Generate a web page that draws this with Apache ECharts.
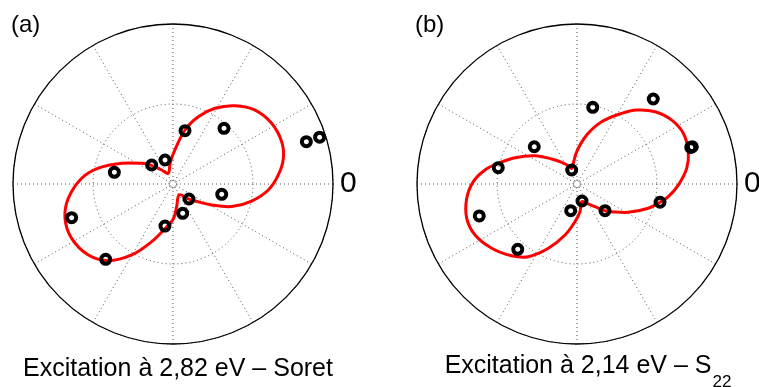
<!DOCTYPE html>
<html>
<head>
<meta charset="utf-8">
<script src="https://cdn.jsdelivr.net/npm/echarts@6/dist/echarts.min.js"></script>
<style>
  html, body { margin: 0; padding: 0; background: #fff; }
  #chart { width: 759px; height: 387px; }
</style>
</head>
<body>
<div id="chart"></div>
<script>
// angles in degrees (0 = right, counter-clockwise), radii in plot units (outer ring = 160)

// (a) fitted curve (closed loop)
var curveA_theta = [114, 98, 89, 77.5, 69.4, 61, 51.6, 42, 31.6, 21.3, 13.1, 4.9, 356.4, 347.8, 339, 331.5, 322.3, 315.6, 300, 279.2, 270.5, 261, 249.7, 239.8, 229.8, 220, 208.2, 197.6, 187.8, 176.4, 168, 158, 146.5, 140, 129];
var curveA_r = [11.7, 20.9, 31, 55.3, 71.9, 86.6, 99.9, 110.4, 115.8, 116.6, 113.3, 105.7, 95.5, 80.5, 62.9, 44, 27.8, 21.4, 12.5, 23, 35, 44, 61.5, 82.1, 100.3, 110.5, 115, 113.3, 105.7, 91.5, 76.3, 55.3, 37.5, 29.8, 18];
// (a) measured points
var ptsA_theta = [17.6, 17.7, 47.5, 77.3, 108.4, 138.3, 168.7, 198.4, 228.2, 259.2, 288.3, 316.8, 348];
var ptsA_r = [139.9, 153.9, 75.5, 54.7, 25.3, 28.6, 59.8, 106.8, 101, 42.8, 30.9, 21.9, 49.8];

// (b) fitted curve (closed loop)
var curveB_theta = [108.7, 90.5, 78.8, 68.4, 57.7, 51.1, 42.8, 34, 25.5, 16.2, 8.1, 359.4, 352.1, 347.6, 341.2, 331.1, 321.4, 316.4, 308.4, 296.7, 284.9, 276.2, 267, 256.8, 246, 236.2, 227.7, 217, 206.6, 197.3, 187.4, 178.7, 171.3, 165.3, 157, 146, 135.3, 125.2, 112];
var curveB_r = [16.5, 32.3, 50, 67, 83.6, 95.1, 106.4, 114.3, 117.8, 115.9, 110.8, 101.3, 92.2, 85, 75.3, 58.6, 44.4, 38.7, 29, 21.6, 18.3, 27.9, 37.7, 52.4, 70.4, 87.5, 97, 106.8, 114, 115.5, 111.2, 103.7, 93.1, 81.4, 67.3, 50.6, 35.6, 26.5, 18.7];
// (b) measured points
var ptsB_theta = [17.9, 17.8, 48.1, 78.4, 110.8, 138.9, 168.3, 198.1, 227.8, 256.7, 286.4, 316.4, 347.6];
var ptsB_r = [121.2, 119.5, 114.2, 78.3, 15, 56.7, 80.4, 102.8, 88.2, 27.4, 17.7, 38.7, 85];

var panelLabels = ['(a)', '(b)'];
var captionA = 'Excitation à 2,82 eV – Soret';
var captionB = 'Excitation à 2,14 eV – S';
var captionBSub = '22';

var FONT = "'Liberation Sans', Arial, Helvetica, sans-serif";
var centers = [[173, 184], [577, 184]];

function pairs(r, t) {
  return r.map(function (v, i) { return [v, t[i]]; });
}

// main polar grids + tiny ring at the origin
function polarAxes(idx) {
  return {
    angle: {
      polarIndex: idx, type: 'value', min: 0, max: 360, interval: 30,
      startAngle: 0, clockwise: false,
      axisLine: { show: true, lineStyle: { color: '#000', width: 1.3 } },
      axisTick: { show: false },
      axisLabel: {
        show: true, margin: 7, color: '#000', fontSize: 30, fontFamily: FONT,
        padding: [5, 0, 0, 0],
        formatter: function (v) { return v === 0 ? '0' : ''; }
      },
      splitLine: { show: true, lineStyle: { color: '#555', width: 1, type: [1, 3] } }
    },
    radius: {
      polarIndex: idx, type: 'value', min: 0, max: 160, interval: 80,
      axisLine: { show: false }, axisTick: { show: false }, axisLabel: { show: false },
      splitLine: { show: true, lineStyle: { color: '#555', width: 1, type: [1, 3] } }
    }
  };
}
function tinyAxes(idx) {
  return {
    angle: {
      polarIndex: idx, type: 'value', min: 0, max: 360,
      axisLine: { show: true, lineStyle: { color: '#666', width: 1, type: [1.5, 1.5] } },
      axisTick: { show: false }, axisLabel: { show: false }, splitLine: { show: false }
    },
    radius: {
      polarIndex: idx, type: 'value', min: 0, max: 1,
      axisLine: { show: false }, axisTick: { show: false }, axisLabel: { show: false },
      splitLine: { show: false }
    }
  };
}

var ax = [polarAxes(0), polarAxes(1), tinyAxes(2), tinyAxes(3)];

// closed smooth loop through the read points, placed with the polar coords
function curveSeries(idx, r, t) {
  var data = pairs(r, t);
  return {
    type: 'custom', coordinateSystem: 'polar', polarIndex: idx, z: 3, silent: true,
    data: data,
    renderItem: function (params, api) {
      if (params.dataIndex !== 0) return;
      var pts = data.map(function (d) { return api.coord(d); });
      return {
        type: 'polygon',
        shape: { points: pts, smooth: 0.35 },
        style: { fill: 'none', stroke: '#ff0000', lineWidth: 3 }
      };
    }
  };
}
function pointSeries(idx, r, t) {
  return {
    type: 'scatter', coordinateSystem: 'polar', polarIndex: idx,
    data: pairs(r, t), symbol: 'circle', symbolSize: 9, z: 4,
    itemStyle: { color: 'transparent', borderColor: '#000', borderWidth: 4, opacity: 1 }
  };
}

var txt = { fontWeight: 'normal', color: '#000', fontFamily: FONT };

var chart = echarts.init(document.getElementById('chart'));
chart.setOption({
  animation: false,
  backgroundColor: '#fff',
  title: [
    { text: panelLabels[0], left: 11, top: 13, padding: 0,
      textStyle: Object.assign({ fontSize: 24 }, txt) },
    { text: panelLabels[1], left: 415, top: 13, padding: 0,
      textStyle: Object.assign({ fontSize: 24 }, txt) },
    { text: captionA, left: 178, top: 357, padding: 0, textAlign: 'center',
      textStyle: Object.assign({ fontSize: 25 }, txt) },
    { text: '{m|' + captionB + '}{s|' + captionBSub + '}', left: 588, top: 354, padding: 0, textAlign: 'center',
      textStyle: Object.assign({
        rich: {
          m: Object.assign({ fontSize: 25, lineHeight: 26, verticalAlign: 'top' }, txt),
          s: Object.assign({ fontSize: 17, lineHeight: 17, verticalAlign: 'top', padding: [20, 0, 0, 1] }, txt)
        }
      }, txt) }
  ],
  polar: [
    { center: centers[0], radius: 160 },
    { center: centers[1], radius: 160 },
    { center: centers[0], radius: 4 },
    { center: centers[1], radius: 4 }
  ],
  angleAxis: ax.map(function (a) { return a.angle; }),
  radiusAxis: ax.map(function (a) { return a.radius; }),
  series: [
    curveSeries(0, curveA_r, curveA_theta),
    pointSeries(0, ptsA_r, ptsA_theta),
    curveSeries(1, curveB_r, curveB_theta),
    pointSeries(1, ptsB_r, ptsB_theta)
  ]
});
</script>
</body>
</html>
